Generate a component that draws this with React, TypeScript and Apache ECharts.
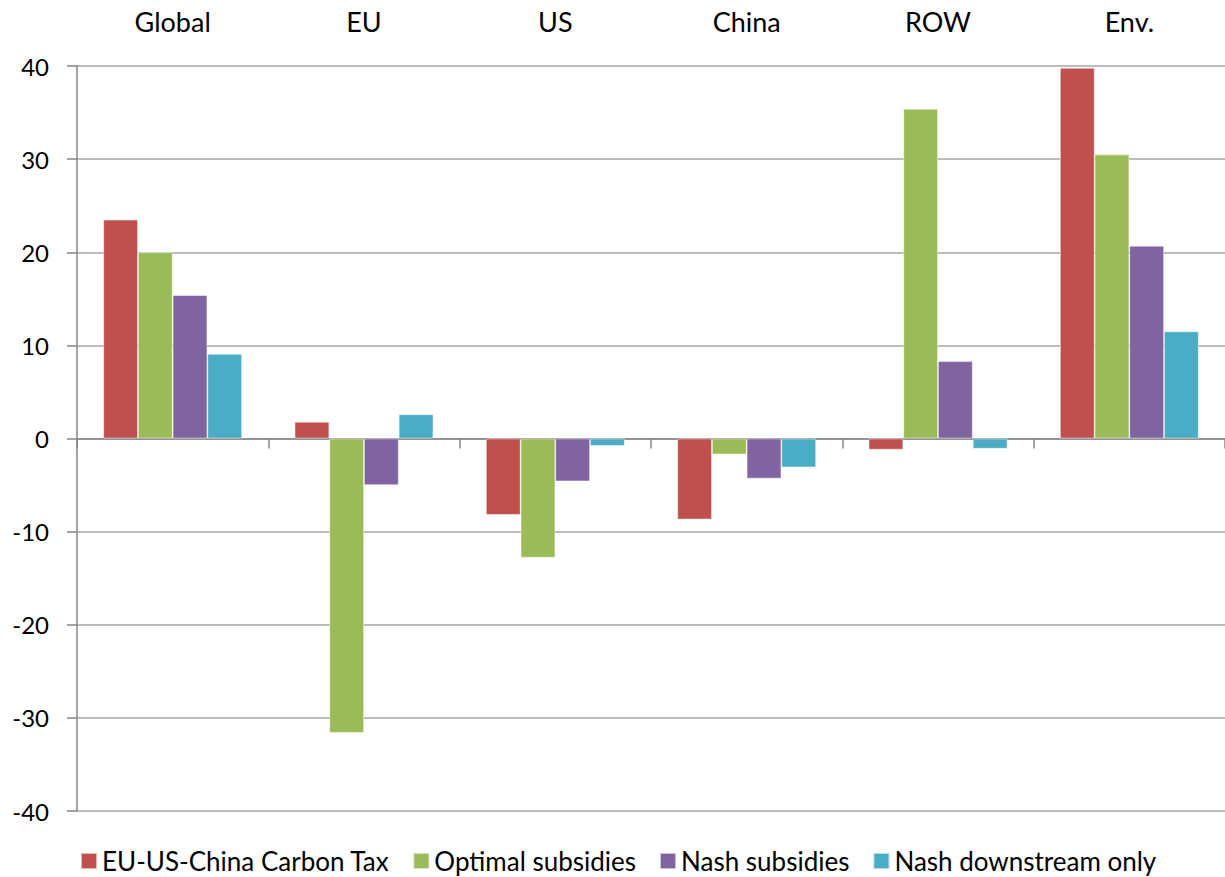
import React, { useEffect, useRef } from "react";
import * as echarts from "echarts";

const categories = ["Global", "EU", "US", "China", "ROW", "Env."];
const seriesNames = [
  "EU-US-China Carbon Tax",
  "Optimal subsidies",
  "Nash subsidies",
  "Nash downstream only",
];
const carbonTax = [23.5, 1.8, -8.2, -8.7, -1.2, 39.8];
const optimalSubsidies = [20.0, -31.6, -12.8, -1.7, 35.4, 30.5];
const nashSubsidies = [15.4, -5.0, -4.6, -4.3, 8.3, 20.7];
const nashDownstream = [9.1, 2.6, -0.8, -3.1, -1.1, 11.5];
const colors = ["#C0504D", "#9BBB59", "#8064A2", "#4BACC6"];
const yTicks = { min: -40, max: 40, interval: 10 };

const FONT = "Lato";

export default function App() {
  const ref = useRef<HTMLDivElement>(null);
  useEffect(() => {
    document.body.style.margin = "0";
    const chart = echarts.init(ref.current!, null, { renderer: "svg" });
    const data = [carbonTax, optimalSubsidies, nashSubsidies, nashDownstream];
    chart.setOption({
      animation: false,
      color: colors,
      textStyle: { fontFamily: FONT },
      grid: { left: 77, top: 66, bottom: 66, width: 1148 },
      legend: {
        data: seriesNames,
        left: 80,
        top: 848,
        padding: 0,
        itemWidth: 16,
        itemHeight: 16,
        itemGap: 23,
        icon: "rect",
        textStyle: { fontFamily: FONT, fontSize: 26, lineHeight: 26, color: "#000" },
      },
      xAxis: [
        {
          type: "category",
          data: categories,
          axisLine: { onZero: true, lineStyle: { color: "#868686", width: 1.5 } },
          axisTick: { show: true, length: 10, lineStyle: { color: "#868686", width: 1.5 } },
          axisLabel: { show: false },
        },
        {
          type: "category",
          data: categories,
          position: "top",
          axisLine: { show: false, onZero: false },
          axisTick: { show: false },
          axisLabel: { show: true, margin: 31, fontFamily: FONT, fontSize: 27, color: "#000" },
        },
      ],
      yAxis: {
        type: "value",
        min: yTicks.min,
        max: yTicks.max,
        interval: yTicks.interval,
        axisLine: { show: true, lineStyle: { color: "#868686", width: 1.5 } },
        axisTick: { show: true, length: 10, lineStyle: { color: "#868686", width: 1.5 } },
        axisLabel: { margin: 28, fontFamily: FONT, fontSize: 24, color: "#000" },
        splitLine: { show: true, lineStyle: { color: "#A6A6A6", width: 1.5 } },
      },
      series: seriesNames.map((name, i) => ({
        name,
        type: "bar",
        xAxisIndex: 0,
        data: data[i],
        barWidth: 34.7,
        barGap: "0%",
        itemStyle: { color: colors[i], borderColor: "rgba(255,255,255,0.6)", borderWidth: 0.8 },
      })),
    });
    return () => chart.dispose();
  }, []);
  return <div ref={ref} style={{ width: 1225, height: 877 }} />;
}
